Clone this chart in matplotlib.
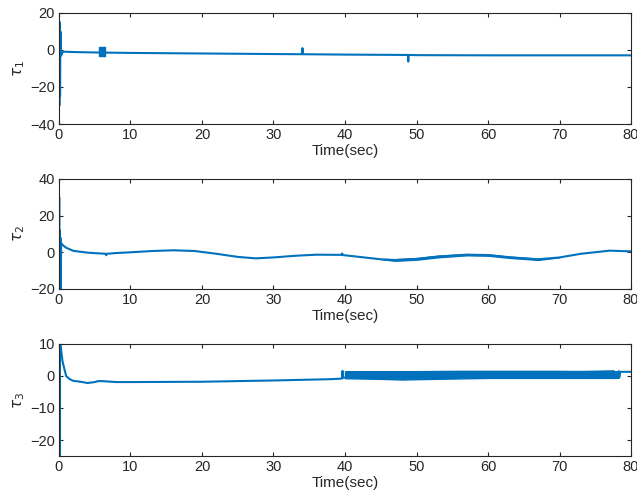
import numpy as np
import matplotlib
matplotlib.use('Agg')
import matplotlib.pyplot as plt

plt.rcParams['font.family'] = ['Liberation Sans', 'DejaVu Sans']

# tau_1 trace
t1 = [0, 0.05, 0.1, 0.15, 0.2, 0.3, 0.45, 0.7, 1.0, 3.0, 6.0, 10, 20, 30,
      34.0, 34.05, 34.1, 40, 48.8, 48.85, 48.9, 50, 60, 70, 80]
v1 = [0, -30, 15, -25, 10, -3, -1.5, -0.9, -1.0, -1.2, -1.4, -1.6, -1.9, -2.2,
      -2.3, 1.0, -2.3, -2.5, -2.7, -6.3, -2.7, -2.8, -2.9, -2.9, -2.9]
# chattering block near t=6
blk1_t = [5.6, 6.5]
blk1_lo = [-3.0, -3.0]
blk1_hi = [1.8, 1.8]

# tau_2 trace
t2 = [0, 0.03, 0.06, 0.1, 0.15, 0.2, 0.25, 0.3, 0.5, 1, 2, 4, 6.5, 6.6, 6.7,
      8, 10, 13, 16, 19, 22, 25, 27.5, 30, 33, 36, 39.5, 39.6, 39.7, 42, 45,
      47, 50, 53, 57, 60, 63, 67, 70, 73, 77, 80]
v2 = [0, 30, -20, 12, -20, 8, -20, 5, 4, 2.5, 0.8, -0.2, -0.8, -1.6, -0.8,
      -0.4, 0, 0.7, 1.1, 0.7, -0.8, -2.5, -3.3, -2.8, -1.9, -1.3, -1.4, -0.6,
      -1.5, -2.5, -3.8, -4.2, -3.6, -2.3, -1.3, -1.5, -2.7, -3.8, -2.8, -0.8,
      0.9, 0.5]
# thickened (chattering) part of tau_2
band2_t = [45, 47, 50, 53, 57, 60, 63, 67, 70]
band2_lo = [-3.8, -4.7, -4.1, -2.8, -1.7, -1.9, -3.1, -4.2, -2.8]
band2_hi = [-3.8, -3.7, -3.1, -1.8, -0.9, -1.1, -2.3, -3.4, -2.8]

# tau_3 trace
t3 = [0, 0.05, 0.1, 0.15, 0.2, 0.5, 1.0, 1.5, 2.0, 3.0, 4.0, 5.0, 5.5, 6.0,
      8, 10, 20, 30, 38, 39.6, 39.65, 39.7, 40, 77.6, 77.65, 78.3, 78.35,
      78.5, 80]
v3 = [5, 5, -25, 10, 10, 4.5, 0, -1.0, -1.5, -1.8, -2.2, -1.9, -1.6, -1.6,
      -1.9, -1.9, -1.8, -1.4, -1.0, -0.8, 1.6, -0.5, -0.5, 1.5, -0.5, 1.5,
      -0.5, 1.3, 1.3]
# chattering band of tau_3
band3_t = [40, 45, 48, 50, 55, 60, 65, 70, 75, 78.2]
band3_lo = [-0.7, -0.9, -1.1, -1.0, -0.8, -0.6, -0.6, -0.6, -0.6, -0.6]
band3_hi = [1.5, 1.5, 1.5, 1.5, 1.6, 1.6, 1.6, 1.6, 1.5, 1.5]

ylabels = [r'$\tau_1$', r'$\tau_2$', r'$\tau_3$']
ylims = [(-40, 20), (-20, 40), (-25, 10)]
yticks = [[-40, -20, 0, 20], [-20, 0, 20, 40], [-20, -10, 0, 10]]
xticks = list(range(0, 81, 10))

col = '#0072BD'
axc = '#262626'

fig = plt.figure(figsize=(6.37, 4.98), dpi=100)
pos = [[0.0926, 0.751, 0.898, 0.223],
       [0.0926, 0.4197, 0.898, 0.221],
       [0.0926, 0.0843, 0.898, 0.225]]
axes = [fig.add_axes(p) for p in pos]

axes[0].plot(t1, v1, color=col, lw=1.5)
axes[0].fill_between(blk1_t, blk1_lo, blk1_hi, color=col, lw=1)
axes[1].plot(t2, v2, color=col, lw=1.5)
axes[1].fill_between(band2_t, band2_lo, band2_hi, color=col, lw=0.8)
axes[2].plot(t3, v3, color=col, lw=1.5)
axes[2].fill_between(band3_t, band3_lo, band3_hi, color=col, lw=1)

for i, ax in enumerate(axes):
    ax.set_xlim(0, 80)
    ax.set_ylim(*ylims[i])
    ax.set_xticks(xticks)
    ax.set_yticks(yticks[i])
    ax.tick_params(direction='in', top=True, right=True, length=3,
                   width=0.8, colors=axc, labelsize=10.5, pad=3)
    for s in ax.spines.values():
        s.set_color(axc)
        s.set_linewidth(0.8)
    ax.set_xlabel('Time(sec)', fontsize=11, color=axc, labelpad=1)
    ax.set_ylabel(ylabels[i], fontsize=11, color=axc, labelpad=2)

fig.savefig('out.png', dpi=100)
